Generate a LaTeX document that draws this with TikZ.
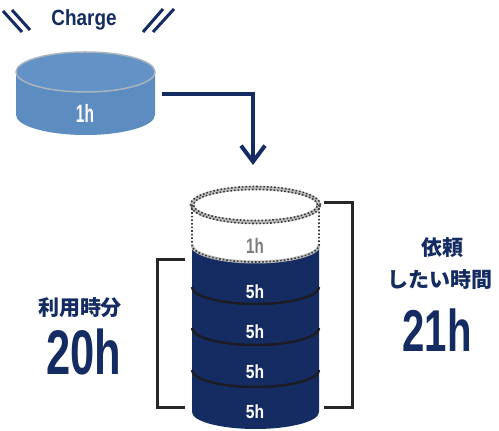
\documentclass[tikz,border=0pt]{standalone}
\usepackage{fontspec}
\setmainfont{Liberation Sans}
\newfontfamily\jpfont{Noto Sans CJK JP}
\usetikzlibrary{arrows.meta}
\definecolor{navy}{RGB}{20,44,98}
\definecolor{lblue}{RGB}{92,140,192}
\definecolor{lblueTop}{RGB}{98,146,198}
\definecolor{bracketc}{RGB}{38,38,38}
\definecolor{ringgray}{RGB}{190,190,190}
\definecolor{dotc}{RGB}{60,60,60}
\definecolor{sepc}{RGB}{28,28,36}
\definecolor{labgray}{RGB}{125,125,125}
\tikzset{
  bracketline/.style={draw=bracketc, line width=3pt},
  navytext/.style={text=navy, font=\bfseries, inner sep=0pt},
  jptext/.style={text=navy, font=\jpfont\bfseries\fontsize{21}{21}\selectfont, inner sep=0pt},
  bigtext/.style={text=navy, inner sep=0pt, anchor=base},
  hlabel/.style={text=white, font=\bfseries\fontsize{19}{19}\selectfont, inner sep=0pt, xscale=0.82},
  flow/.style={draw=navy, line width=4pt, -{Straight Barb[length=16pt,width=24pt,line width=4pt]}},
  slash/.style={draw=navy, line width=3pt}
}
\begin{document}
\begin{tikzpicture}[x=1pt,y=1pt]
\useasboundingbox (0,0) rectangle (499,431);
\fill[white] (0,0) rectangle (499,431);

% slashes and Charge
\draw[slash] (3,420) -- (22,399);
\draw[slash] (12,421) -- (30,401);
\draw[slash] (163,422) -- (143,399);
\draw[slash] (174,422) -- (153,399);
\node[navytext, anchor=base, font=\bfseries\fontsize{22}{22}\selectfont, xscale=0.86] (charge) at (84,405) {Charge};

% small cylinder
\fill[lblue] (16,359) -- (16,316) arc[start angle=180,end angle=360,x radius=69.5pt,y radius=20pt] -- (155,359) -- cycle;
\filldraw[fill=lblueTop, draw=ringgray!80!lblue, line width=1.5pt] (85.5,359) ellipse [x radius=69.5pt, y radius=20pt];
\node[text=white, font=\bfseries\fontsize{25}{25}\selectfont, inner sep=0pt, anchor=base, xscale=0.62] (small1h) at (85,308) {1h};

% arrow
\coordinate (arrS) at (162,337);
\coordinate (arrC) at (253,337);
\coordinate (arrE) at (253,266);
\draw[flow] (arrS) -- (arrC) -- (arrE);

% big cylinder navy body
\fill[navy] (192,186) -- (192,19) arc[start angle=180,end angle=360,x radius=63.5pt,y radius=17pt] -- (319,186) arc[start angle=0,end angle=180,x radius=63.5pt,y radius=17pt] -- cycle;
\foreach \yy in {144,103,61}{
  \draw[sepc, line width=2.5pt] (192,\yy) arc[start angle=180,end angle=360,x radius=63.5pt,y radius=17pt];
}
% white dotted block
\fill[white] (192,226) -- (192,186) arc[start angle=180,end angle=360,x radius=63.5pt,y radius=17pt] -- (319,226) arc[start angle=0,end angle=180,x radius=63.5pt,y radius=17pt] -- cycle;
\fill[white] (255.5,226) ellipse [x radius=63.5pt, y radius=17pt];
\draw[ringgray, line width=4pt] (255.5,226) ellipse [x radius=63.5pt, y radius=17pt];
\draw[ringgray, line width=3pt] (192,186) arc[start angle=180,end angle=360,x radius=63.5pt,y radius=17pt];
\draw[dotc, line width=1.6pt, dotted] (255.5,226) ellipse [x radius=65pt, y radius=18.5pt];
\draw[dotc, line width=1.6pt, dotted] (255.5,226) ellipse [x radius=62pt, y radius=15.5pt];
\draw[dotc, line width=1.6pt, dotted] (192,226) -- (192,186) arc[start angle=180,end angle=360,x radius=63.5pt,y radius=17pt] -- (319,226);

% labels in big cylinder
\node[text=labgray, font=\bfseries\fontsize{21}{21}\selectfont, inner sep=0pt, xscale=0.72] (g1h) at (255,185) {1h};
\node[hlabel] (b1) at (255,139) {5h};
\node[hlabel] (b2) at (255,99) {5h};
\node[hlabel] (b3) at (255,59) {5h};
\node[hlabel] (b4) at (255,19) {5h};

% brackets
\draw[bracketline] (324,228) -- (352,228) -- (352,23) -- (324,23);
\draw[bracketline] (185,171) -- (157,171) -- (157,23) -- (185,23);

% left texts
\node[jptext] (riyou) at (80,123) {利用時分};
\node[bigtext, font=\bfseries\fontsize{63}{63}\selectfont, xscale=0.69] (t20) at (84,56) {20h};

% right texts
\node[jptext] (irai) at (442,183) {依頼};
\node[jptext] (shitai) at (440,151) {したい時間};
\node[bigtext, font=\bfseries\fontsize{59}{59}\selectfont, xscale=0.68] (t21) at (437,79) {21h};
\end{tikzpicture}
\end{document}
